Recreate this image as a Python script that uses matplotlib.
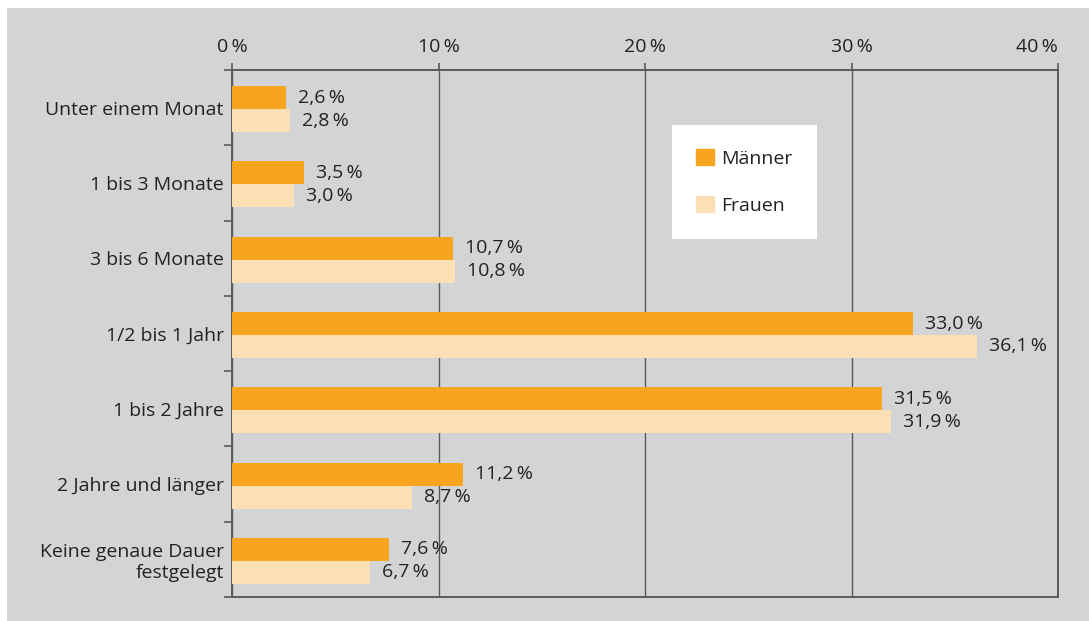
import numpy as np
import matplotlib.pyplot as plt
from matplotlib.patches import Rectangle, Patch

plt.rcParams['font.family'] = ['Open Sans', 'DejaVu Sans']

categories = ['Unter einem Monat', '1 bis 3 Monate', '3 bis 6 Monate',
              '1/2 bis 1 Jahr', '1 bis 2 Jahre', '2 Jahre und länger',
              'Keine genaue Dauer\nfestgelegt']
maenner = [2.6, 3.5, 10.7, 33.0, 31.5, 11.2, 7.6]
frauen = [2.8, 3.0, 10.8, 36.1, 31.9, 8.7, 6.7]
xticks = [0, 10, 20, 30, 40]

c_m = '#F7A51E'
c_f = '#FDDFB5'
bg = '#D3D4D6'
line = '#5a5a5a'
txt = '#222222'
fs = 14

fig = plt.figure(figsize=(10.89, 6.21), dpi=100)
fig.patch.set_facecolor('white')
fig.patches.append(Rectangle((7 / 1089, 0), 1 - 7 / 1089, 613 / 621,
                             transform=fig.transFigure, facecolor=bg,
                             edgecolor='none', zorder=-10))

ax = fig.add_axes([232 / 1089, 24 / 621, 826 / 1089, 527 / 621])
ax.set_facecolor(bg)

y = np.arange(len(categories))
h = 0.305
off = 0.02
ax.barh(y - h / 2 + off, maenner, height=h, color=c_m, zorder=3)
ax.barh(y + h / 2 + off, frauen, height=h, color=c_f, zorder=3)

fmt = lambda v: f'{v:.1f}'.replace('.', ',') + '\u2009%'
for i in range(len(categories)):
    ax.annotate(fmt(maenner[i]), (maenner[i], y[i] - h / 2 + off),
                xytext=(12, 0), textcoords='offset pixels', va='center',
                ha='left', fontsize=fs, color=txt)
    ax.annotate(fmt(frauen[i]), (frauen[i], y[i] + h / 2 + off),
                xytext=(12, 0), textcoords='offset pixels', va='center',
                ha='left', fontsize=fs, color=txt)

ax.set_xlim(0, 40)
ax.set_ylim(len(categories) - 0.5, -0.5)

ax.xaxis.tick_top()
ax.set_xticks(xticks)
ax.set_xticklabels([f'{t}\u2009%' for t in xticks], fontsize=fs, color=txt)
ax.get_xticklabels()[-1].set_ha('right')
ax.tick_params(axis='x', direction='out', length=5, width=1.2, color=line, pad=5)
ax.grid(axis='x', color=line, linewidth=1.0, zorder=1)

ax.set_yticks(y)
ax.set_yticklabels(categories, fontsize=fs, color=txt, ha='right')
ax.set_yticks(np.arange(len(categories) + 1) - 0.5, minor=True)
ax.tick_params(axis='y', which='major', length=0, pad=6)
ax.tick_params(axis='y', which='minor', direction='out', length=6, width=1.2, color=line)

for s in ax.spines.values():
    s.set_color(line)
    s.set_linewidth(1.4)

leg = ax.legend(handles=[Patch(color=c_m, label='Männer'),
                         Patch(color=c_f, label='Frauen')],
                loc='upper left', bbox_to_anchor=(440 / 826, 1 - 55 / 527),
                borderaxespad=0, frameon=True, fancybox=False, framealpha=1,
                edgecolor='white', fontsize=fs, handlelength=0.9,
                handleheight=0.9, labelspacing=1.45, borderpad=1.25,
                handletextpad=0.4, labelcolor=txt)
leg.get_frame().set_linewidth(0)

fig.savefig('out.png', dpi=100)
